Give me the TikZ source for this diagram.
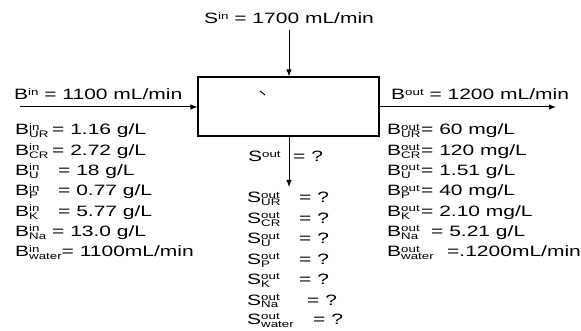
\documentclass[tikz,border=0pt]{standalone}
\usepackage{fontspec}
\setmainfont{Liberation Sans}[FakeStretch=1.4]
\usetikzlibrary{arrows.meta}
\newcommand\ssz{\fontsize{9.5}{10}\selectfont}
\newcommand\supsub[3]{#1{\ssz\sbox0{#2}\sbox2{#3}\rlap{\raisebox{4.6pt}{\usebox0}}\raisebox{-2.8pt}{\usebox2}\ifdim\wd0>\wd2\hspace{\dimexpr\wd0-\wd2\relax}\fi}}
\newcommand\supo[2]{#1{\ssz\raisebox{4.4pt}{#2}}}
\newcommand\lhs[2]{\makebox[#1][l]{#2}}
\tikzset{
  lbl/.style={anchor=base west, inner sep=0pt, font=\fontsize{15}{17}\selectfont},
  flow/.style={line width=1pt, -{Latex[length=7pt,width=5.5pt]}},
  unit/.style={draw, line width=1.1pt, minimum width=181pt, minimum height=59pt, inner sep=0pt},
}
\begin{document}
\begin{tikzpicture}[x=1pt,y=-1pt]
\useasboundingbox (0,0) rectangle (581,331);
\node[unit] (box) at (288.5,106.5) {};
\draw[line width=1pt] (260,91) -- (265,95);
% connectors
\coordinate (sinstart) at (289,30);
\draw[flow] (sinstart) -- (sinstart |- box.north);
\coordinate (binstart) at (20,107);
\draw[flow] (binstart) -- (binstart -| box.west);
\coordinate (boutend) at (556,107);
\draw[flow] (boutend -| box.east) -- (boutend);
\coordinate (soutend) at (289,187);
\draw[flow] (soutend |- box.south) -- (soutend);
% stream labels
\node[lbl] (sin) at (204,24) {\supo{S}{in} = 1700 mL/min};
\node[lbl] (bin) at (14,100) {\supo{B}{in} = 1100 mL/min};
\node[lbl] (bout) at (391,100) {\supo{B}{out} = 1200 mL/min};
\node[lbl] (sout) at (248,162) {\supo{S}{out}};
\node[lbl] (soutq) at (293,162) {= ?};
% blood in
\node[lbl] (bin1) at (15,135) {\lhs{37pt}{\supsub{B}{in}{UR}}= 1.16 g/L};
\node[lbl] (bin2) at (15,155.3) {\lhs{37pt}{\supsub{B}{in}{CR}}= 2.72 g/L};
\node[lbl] (bin3) at (15,175.6) {\lhs{43pt}{\supsub{B}{in}{U}}= 18 g/L};
\node[lbl] (bin4) at (15,196) {\lhs{43pt}{\supsub{B}{in}{P}}= 0.77 g/L};
\node[lbl] (bin5) at (15,216.3) {\lhs{43pt}{\supsub{B}{in}{K}}= 5.77 g/L};
\node[lbl] (bin6) at (15,236.6) {\lhs{37pt}{\supsub{B}{in}{Na}}= 13.0 g/L};
\node[lbl] (bin7) at (15,257) {\supsub{B}{in}{water}= 1100mL/min};
% blood out
\node[lbl] (bout1) at (387,135) {\lhs{34pt}{\supsub{B}{out}{UR}}= 60 mg/L};
\node[lbl] (bout2) at (387,155.3) {\lhs{34pt}{\supsub{B}{out}{CR}}= 120 mg/L};
\node[lbl] (bout3) at (387,175.6) {\lhs{34pt}{\supsub{B}{out}{U}}= 1.51 g/L};
\node[lbl] (bout4) at (387,196) {\lhs{34pt}{\supsub{B}{out}{P}}= 40 mg/L};
\node[lbl] (bout5) at (387,216.3) {\lhs{34pt}{\supsub{B}{out}{K}}= 2.10 mg/L};
\node[lbl] (bout6) at (387,236.6) {\lhs{44pt}{\supsub{B}{out}{Na}}= 5.21 g/L};
\node[lbl] (bout7) at (387,257) {\lhs{60pt}{\supsub{B}{out}{water}}=.1200mL/min};
% dialysate out
\node[lbl] (sout1) at (247,203) {\lhs{52pt}{\supsub{S}{out}{UR}}= ?};
\node[lbl] (sout2) at (247,223.4) {\lhs{52pt}{\supsub{S}{out}{CR}}= ?};
\node[lbl] (sout3) at (247,243.8) {\lhs{52pt}{\supsub{S}{out}{U}}= ?};
\node[lbl] (sout4) at (247,264.2) {\lhs{52pt}{\supsub{S}{out}{P}}= ?};
\node[lbl] (sout5) at (247,284.6) {\lhs{52pt}{\supsub{S}{out}{K}}= ?};
\node[lbl] (sout6) at (247,305) {\lhs{60pt}{\supsub{S}{out}{Na}}= ?};
\node[lbl] (sout7) at (247,324.5) {\lhs{66pt}{\supsub{S}{out}{water}}= ?};
\end{tikzpicture}
\end{document}
